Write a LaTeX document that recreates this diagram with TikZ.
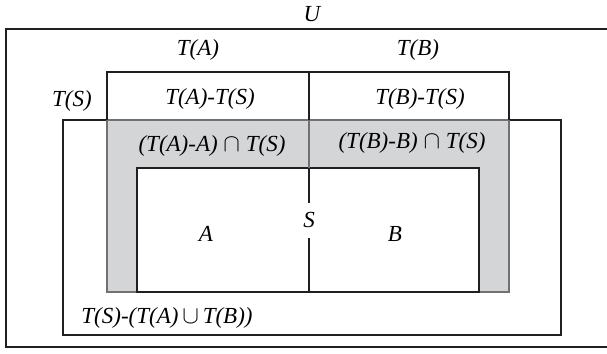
\documentclass[tikz,border=0pt]{standalone}
\usepackage{fontspec}
\setmainfont{Liberation Serif}
\definecolor{lineC}{HTML}{231F20}
\definecolor{grayF}{HTML}{D4D5D7}
\definecolor{lineG}{HTML}{707174}
\begin{document}
\begin{tikzpicture}[x=1pt,y=-1pt,
  box/.style={draw=lineC,line width=2pt},
  gline/.style={draw=lineG,line width=2pt},
  lbl/.style={font=\fontsize{23}{26}\selectfont\itshape,inner sep=0pt,text=black}]
\useasboundingbox (0,0) rectangle (607,353);
% coordinates
\coordinate (uNE) at (612,29);
\coordinate (uNW) at (6,29);
\coordinate (uSW) at (6,347);
\coordinate (uSE) at (612,347);
% gray region
\fill[grayF,even odd rule] (107,120) rectangle (509,292) (137,168) rectangle (479,292);
% outer U
\draw[box] (uNE) -- (uNW) -- (uSW) -- (uSE);
% T(S)
\draw[box] (63,120) rectangle (561,335);
\draw[gline] (108,120) -- (508,120);
% T(A) u T(B) box
\draw[box] (107,121) -- (107,72) -- (509,72) -- (509,121);
\draw[gline] (107,120) -- (107,292) -- (137,292);
\draw[gline] (509,120) -- (509,292) -- (479,292);
% inner A u B
\draw[box] (137,292) -- (137,168) -- (479,168) -- (479,292) -- cycle;
% divider
\coordinate (d1) at (309,72);
\coordinate (d2) at (309,120);
\coordinate (d3) at (309,168);
\coordinate (d4) at (309,203);
\coordinate (d5) at (309,238);
\coordinate (d6) at (309,292);
\draw[box] (d1) -- (d2);
\draw[gline] (d2) -- (d3);
\draw[box] (d3) -- (d4);
\draw[box] (d5) -- (d6);
% labels
\node[lbl] (lU) at (312,14) {U};
\node[lbl] (lTA) at (198,50) {T(A)};
\node[lbl] (lTB) at (418,50) {T(B)};
\node[lbl] (lTS) at (72,101) {T(S)};
\node[lbl] (lTATS) at (210,99) {T(A)-T(S)};
\node[lbl] (lTBTS) at (420,99) {T(B)-T(S)};
\node[lbl] (lGA) at (212,146) {(T(A)-A) $\cap$ T(S)};
\node[lbl] (lGB) at (412,143) {(T(B)-B) $\cap$ T(S)};
\node[lbl] (lS) at (309,220) {S};
\node[lbl] (lA) at (206,234) {A};
\node[lbl] (lB) at (395,234) {B};
\node[lbl] (lRest) at (167,318) {T(S)-(T(A)\,$\cup$\,T(B))};
\end{tikzpicture}
\end{document}
